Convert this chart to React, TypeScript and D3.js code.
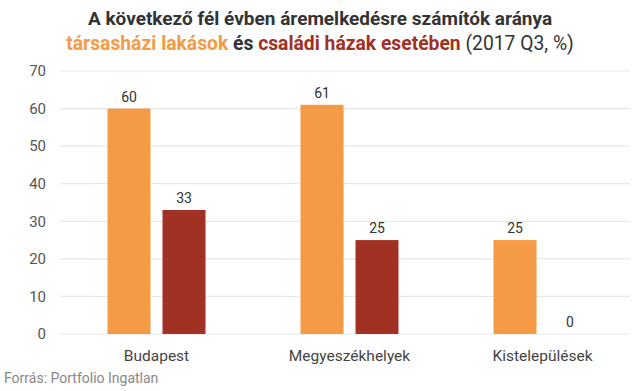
import React, { useEffect, useRef } from "react";
import * as d3 from "d3";

const categories = ["Budapest", "Megyeszékhelyek", "Kistelepülések"];
const lakasok = [60, 61, 25];
const hazak = [33, 25, 0];
const yTicks = [0, 10, 20, 30, 40, 50, 60, 70];

const ORANGE = "#f59b45";
const RED = "#a03123";

const App = () => {
    const ref = useRef<SVGSVGElement>(null);

    useEffect(() => {
        const width = 640;
        const height = 391;
        const margin = { top: 71, right: 1, bottom: 57, left: 60 };

        const svg = d3.select(ref.current);
        svg.selectAll("*").remove();
        svg.append("rect").attr("width", width).attr("height", height).attr("fill", "#fff");

        const x = d3.scaleBand().domain(categories).range([margin.left, width - margin.right]);
        const y = d3.scaleLinear().domain([0, 70]).range([height - margin.bottom, margin.top]);

        // gridlines + tick labels
        const grid = svg.append("g");
        yTicks.forEach((t) => {
            grid.append("line")
                .attr("x1", margin.left).attr("x2", 630)
                .attr("y1", y(t)).attr("y2", y(t))
                .attr("stroke", "#e8e8e8").attr("stroke-width", 1.2);
            grid.append("text")
                .attr("x", 46).attr("y", y(t)).attr("dy", "0.35em")
                .attr("text-anchor", "end")
                .attr("font-size", 15).attr("fill", "#555")
                .text(t);
        });

        const barW = 43;
        const gap = 12;
        const series = [
            { values: lakasok, color: ORANGE, offset: -(gap / 2 + barW) },
            { values: hazak, color: RED, offset: gap / 2 },
        ];

        series.forEach((s) => {
            const g = svg.append("g");
            categories.forEach((c, i) => {
                const cx = x(c)! + x.bandwidth() / 2;
                const v = s.values[i];
                g.append("rect")
                    .attr("x", cx + s.offset).attr("width", barW)
                    .attr("y", y(v)).attr("height", y(0) - y(v))
                    .attr("fill", s.color);
                g.append("text")
                    .attr("x", cx + s.offset + barW / 2).attr("y", y(v) - 7)
                    .attr("text-anchor", "middle")
                    .attr("font-size", 14).attr("fill", "#333")
                    .text(v);
            });
        });

        // category labels
        categories.forEach((c) => {
            svg.append("text")
                .attr("x", x(c)! + x.bandwidth() / 2).attr("y", y(0) + 27)
                .attr("text-anchor", "middle")
                .attr("font-size", 15.5).attr("fill", "#444")
                .text(c);
        });

        // title
        const title = svg.append("text").attr("text-anchor", "middle").attr("font-size", 19).attr("font-weight", "bold");
        title.append("tspan").attr("x", 320).attr("y", 25).attr("fill", "#333").text("A következő fél évben áremelkedésre számítók aránya");
        const l2 = svg.append("text").attr("x", 320).attr("y", 50).attr("text-anchor", "middle").attr("font-size", 19.3);
        l2.append("tspan").attr("font-weight", "bold").attr("fill", ORANGE).text("társasházi lakások");
        l2.append("tspan").attr("font-weight", "bold").attr("fill", "#333").text(" és ");
        l2.append("tspan").attr("font-weight", "bold").attr("fill", RED).text("családi házak esetében");
        l2.append("tspan").attr("fill", "#333").text(" (2017 Q3, %)");

        svg.append("text")
            .attr("x", 4).attr("y", 383)
            .attr("font-size", 14).attr("fill", "#888")
            .text("Forrás: Portfolio Ingatlan");
    }, []);

    return (
        <svg
            ref={ref}
            width={640}
            height={391}
            style={{ position: "absolute", left: 0, top: 0, fontFamily: "Roboto" }}
        />
    );
};

export default App;
